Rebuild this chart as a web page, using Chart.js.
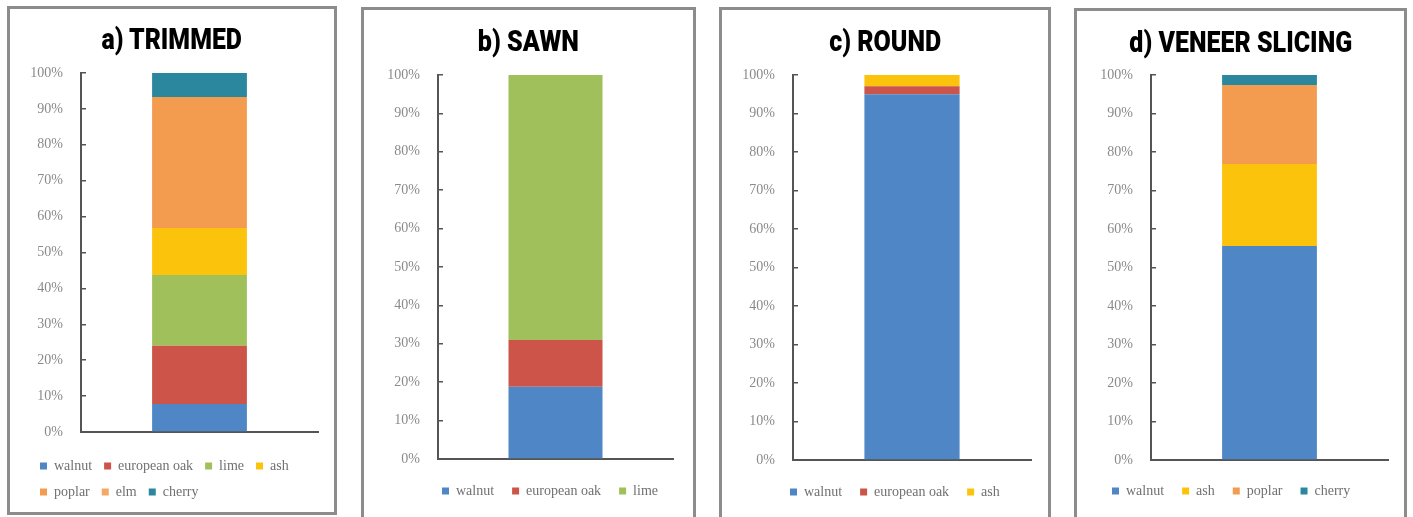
<!DOCTYPE html>
<html>
<head>
<meta charset="utf-8">
<script src="https://cdn.jsdelivr.net/npm/chart.js@4/dist/chart.umd.min.js"></script>
<style>
  html, body { margin: 0; padding: 0; background: #fff; }
  body { width: 1413px; height: 517px; position: relative; overflow: hidden; }
  .panel { position: absolute; box-sizing: border-box; border: 3px solid #8c8c8c; background: #fff; }
  .panel canvas { position: absolute; left: 0; top: 0; }
  .title {
    position: absolute; left: 0; right: 0; text-align: center;
    font-family: Roboto, "Liberation Sans", sans-serif;
    font-weight: 900; font-size: 30px; line-height: 30px; color: #000;
  }
  .title span { display: inline-block; transform-origin: 50% 50%; white-space: nowrap; }
</style>
</head>
<body>
<script>
// tick labels of the percentage axis
const tickValues = [0, 10, 20, 30, 40, 50, 60, 70, 80, 90, 100];

// panel titles
const panelTitles = ['a) TRIMMED', 'b) SAWN', 'c) ROUND', 'd) VENEER SLICING'];

// species share (%) per panel
const trimmedSpecies = ['walnut', 'european oak', 'lime', 'ash', 'poplar', 'elm', 'cherry'];
const trimmedShares = [7.8, 16.2, 19.7, 13.1, 36.5, 0, 6.7];

const sawnSpecies = ['walnut', 'european oak', 'lime'];
const sawnShares = [18.8, 12.2, 69.0];

const roundSpecies = ['walnut', 'european oak', 'ash'];
const roundShares = [95.0, 2.1, 2.9];

const slicingSpecies = ['walnut', 'ash', 'poplar', 'cherry'];
const slicingShares = [55.6, 21.3, 20.5, 2.6];

const speciesColors = {
  'walnut': '#4f87c6',
  'european oak': '#cc5449',
  'lime': '#9fc05b',
  'ash': '#fcc30c',
  'poplar': '#f39b4f',
  'elm': '#f5a866',
  'cherry': '#2a879d'
};

// frame + chart area placement for each panel
const frames = [
  { left: 7,    top: 6, w: 330, h: 509, padL: 18, padR: 16, padT: 64, padB: 3, yW: 53, xH: 15, legPad: 12, legDx: 0,  titleW: 141 },
  { left: 361,  top: 7, w: 335, h: 513, padL: 10, padR: 20, padT: 65, padB: 9, yW: 64, xH: 7,  legPad: 18, legDx: 50, titleW: 101 },
  { left: 719,  top: 7, w: 332, h: 513, padL: 10, padR: 17, padT: 65, padB: 8, yW: 61, xH: 7,  legPad: 18, legDx: 40, titleW: 112 },
  { left: 1074, top: 8, w: 333, h: 512, padL: 17, padR: 16, padT: 64, padB: 9, yW: 57, xH: 6,  legPad: 18, legDx: 0,  titleW: 223 }
];

const panelData = [
  [trimmedSpecies, trimmedShares],
  [sawnSpecies, sawnShares],
  [roundSpecies, roundShares],
  [slicingSpecies, slicingShares]
];

const serif = '"Liberation Serif", "DejaVu Serif", serif';

// moves the legend sideways after layout (it starts right of the axis in b and c)
const legendShift = {
  id: 'legendShift',
  afterLayout(chart, args, opts) {
    const lg = chart.legend;
    if (!lg || !opts.dx) return;
    lg.left += opts.dx;
    lg.right += opts.dx;
  }
};

const measureCtx = document.createElement('canvas').getContext('2d');
measureCtx.font = '900 30px Roboto, "Liberation Sans", sans-serif';

panelData.forEach(([species, shares], i) => {
  const f = frames[i];
  const panel = document.createElement('div');
  panel.className = 'panel';
  panel.style.left = f.left + 'px';
  panel.style.top = f.top + 'px';
  panel.style.width = f.w + 'px';
  panel.style.height = f.h + 'px';
  document.body.appendChild(panel);

  const cw = f.w - 6, ch = f.h - 6;
  const canvas = document.createElement('canvas');
  canvas.width = cw;
  canvas.height = ch;
  canvas.style.width = cw + 'px';
  canvas.style.height = ch + 'px';
  panel.appendChild(canvas);

  const title = document.createElement('div');
  title.className = 'title';
  title.style.top = (i === 0 ? 15 : 16) + 'px';
  const span = document.createElement('span');
  span.textContent = panelTitles[i];
  const k = f.titleW / measureCtx.measureText(panelTitles[i]).width;
  span.style.transform = 'scaleX(' + k.toFixed(3) + ')';
  title.appendChild(span);
  panel.appendChild(title);

  new Chart(canvas.getContext('2d'), {
    type: 'bar',
    data: {
      labels: [''],
      datasets: species.map((name, j) => ({
        label: name,
        data: [shares[j]],
        backgroundColor: speciesColors[name],
        borderWidth: 0,
        categoryPercentage: 1,
        barPercentage: 0.4
      }))
    },
    plugins: [legendShift],
    options: {
      responsive: false,
      animation: false,
      layout: { padding: { left: f.padL, right: f.padR, top: f.padT, bottom: f.padB } },
      plugins: {
        tooltip: { enabled: false },
        legendShift: { dx: f.legDx },
        legend: {
          position: 'bottom',
          align: 'start',
          labels: {
            boxWidth: 7,
            boxHeight: 7,
            padding: f.legPad,
            color: '#707070',
            font: { family: serif, size: 14 }
          }
        }
      },
      scales: {
        x: {
          stacked: true,
          grid: { display: false, drawTicks: false },
          border: { display: true, color: '#555', width: 2 },
          ticks: { display: false },
          afterFit: s => { s.height = f.xH; }
        },
        y: {
          stacked: true,
          min: 0,
          max: 100,
          afterBuildTicks: s => { s.ticks = tickValues.map(v => ({ value: v })); },
          afterFit: s => { s.width = f.yW; },
          grid: { drawOnChartArea: false, drawTicks: true, tickLength: -5, color: '#555', lineWidth: 1.5 },
          border: { display: true, color: '#555', width: 2 },
          ticks: {
            padding: 23,
            color: '#8a8a8a',
            font: { family: serif, size: 14 },
            callback: v => v + '%'
          }
        }
      }
    }
  });
});
</script>
</body>
</html>
